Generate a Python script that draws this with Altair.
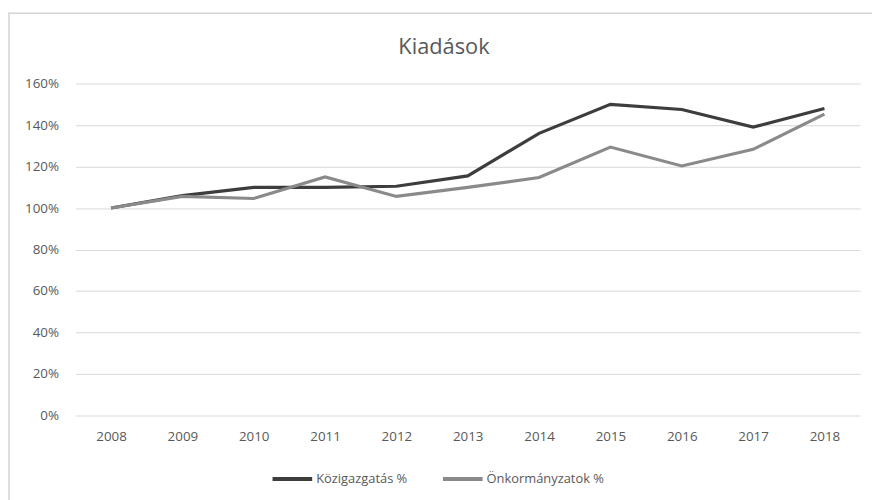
import altair as alt
import pandas as pd

years = ["2008", "2009", "2010", "2011", "2012", "2013", "2014", "2015", "2016", "2017", "2018"]
kozig = [1.00, 1.06, 1.10, 1.10, 1.105, 1.155, 1.36, 1.50, 1.475, 1.39, 1.48]
onk = [1.00, 1.056, 1.046, 1.15, 1.056, 1.10, 1.147, 1.294, 1.203, 1.283, 1.453]
series = ["Közigazgatás %", "Önkormányzatok %"]
y_ticks = [0, 0.2, 0.4, 0.6, 0.8, 1.0, 1.2, 1.4, 1.6]
title_text = "Kiadások"

rows = []
for s, vals in zip(series, [kozig, onk]):
    for yr, v in zip(years, vals):
        rows.append({"year": yr, "value": v, "series": s})
df = pd.DataFrame(rows)

FONT = "Open Sans"
TXT = "#595959"
W, H = 792, 335

one = pd.DataFrame({"t": [title_text]})

frame = alt.Chart(one).mark_rect(
    fillOpacity=0, stroke="#d4d4d4", strokeWidth=1.5
).encode(
    x=alt.value(-67), x2=alt.value(W + 40),
    y=alt.value(-71), y2=alt.value(H + 120),
)

title = alt.Chart(one).mark_text(
    font=FONT, fontSize=22, color=TXT, align="center", baseline="alphabetic"
).encode(
    text="t:N", x=alt.value(372), y=alt.value(-30),
)

lines = alt.Chart(df).mark_line(strokeWidth=3.2).encode(
    x=alt.X("year:O", sort=years, scale=alt.Scale(type="point", padding=0.5),
            axis=alt.Axis(title=None, labelAngle=0, ticks=False, domain=False,
                          grid=False, labelPadding=14)),
    y=alt.Y("value:Q", scale=alt.Scale(domain=[0, 1.6]),
            axis=alt.Axis(title=None, format=".0%", values=y_ticks, ticks=False,
                          domain=False, grid=True, labelPadding=17)),
    color=alt.Color("series:N", sort=series,
                    scale=alt.Scale(domain=series, range=["#3d3d3d", "#8a8a8a"]),
                    legend=alt.Legend(title=None, orient="none", direction="horizontal",
                                      legendX=197, legendY=377, symbolType="stroke",
                                      symbolSize=1600, symbolStrokeWidth=4,
                                      labelOffset=2, columnPadding=28)),
)

chart = alt.layer(frame, title, lines).properties(
    width=W, height=H,
    autosize=alt.AutoSizeParams(type="none"),
    padding={"left": 68, "top": 74, "right": 12, "bottom": 83},
).configure_view(stroke=None).configure_axis(
    labelFont=FONT, labelFontSize=13.5, labelColor=TXT, gridColor="#d9d9d9", gridWidth=1
).configure_legend(
    labelFont=FONT, labelFontSize=13, labelColor=TXT
)

chart.save("out.html", embed_options={"renderer": "svg", "actions": False})
